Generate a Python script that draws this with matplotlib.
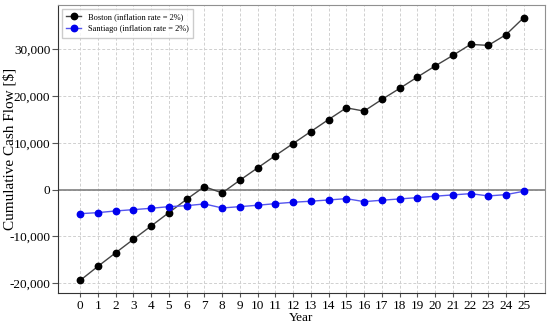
import numpy as np
import matplotlib.pyplot as plt
from matplotlib.ticker import FuncFormatter

plt.rcParams['font.family'] = ['Liberation Serif', 'DejaVu Serif']

years = list(range(26))
boston = [-19400, -16400, -13500, -10620, -7770, -4920, -2060, 640, -710, 2010,
          4650, 7280, 9850, 12420, 14990, 17490, 16790, 19270, 21630, 24060,
          26420, 28690, 31050, 30840, 33130, 36770]
santiago = [-5140, -4920, -4560, -4280, -3990, -3640, -3430, -3060, -3920, -3640,
            -3340, -3000, -2700, -2480, -2210, -1930, -2570, -2270, -1990, -1710,
            -1410, -1130, -860, -1350, -1070, -350]

fig = plt.figure(figsize=(5.5, 3.25), dpi=100)
ax = fig.add_axes([0.1055, 0.0985, 0.8855, 0.8865])

ax.grid(True, linestyle=(0, (3, 2)), color='#d0d0d0', linewidth=0.7)
ax.set_axisbelow(True)
ax.axhline(0, color='#808080', linewidth=1.2, zorder=1)

ax.plot(years, boston, '-o', color='#444444', mfc='black', mec='black',
        markersize=4.6, linewidth=1.0, label='Boston (inflation rate = 2%)', zorder=3)
ax.plot(years, santiago, '-o', color='#5555ee', mfc='#0000ee', mec='#0000ee',
        markersize=4.6, linewidth=1.0, label='Santiago (inflation rate = 2%)', zorder=3)

ax.set_xlim(-1.25, 26.2)
ax.set_ylim(-22100, 39500)
ax.set_xticks(years)
ax.set_yticks([-20000, -10000, 0, 10000, 20000, 30000])
ax.yaxis.set_major_formatter(FuncFormatter(lambda v, p: f'{int(v):,}'))
ax.tick_params(axis='x', length=3, labelsize=9.5, pad=2, color='#555555')
ax.tick_params(axis='y', length=4, labelsize=9.5, pad=1.5, color='#555555')

for s in ['top', 'right']:
    ax.spines[s].set_color('#909090')
for s in ['left', 'bottom']:
    ax.spines[s].set_color('#333333')

ax.set_xlabel('Year', fontsize=9.5)
ax.set_ylabel('Cumulative Cash Flow [$]', fontsize=11)
ax.xaxis.set_label_coords(0.5, -0.087, transform=ax.transAxes)
ax.yaxis.set_label_coords(-0.0996, 0.5, transform=ax.transAxes)
ax.xaxis.label.set_va('center')
ax.yaxis.label.set_va('center')

ax.legend(loc='upper left', fontsize=6, frameon=True, fancybox=False,
          edgecolor='#c0c0c0', handlelength=1.8, borderpad=0.5)

fig.savefig('out.png', dpi=100)
